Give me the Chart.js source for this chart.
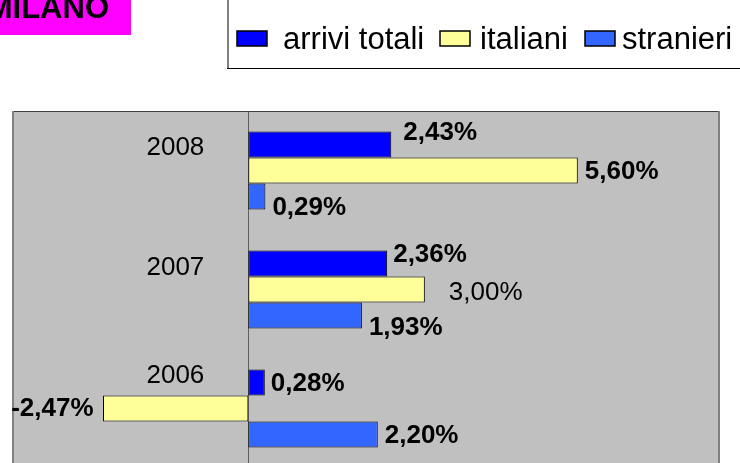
<!DOCTYPE html>
<html>
<head>
<meta charset="utf-8">
<script src="https://cdn.jsdelivr.net/npm/chart.js@4.4.1/dist/chart.umd.min.js"></script>
<style>
  html, body { margin: 0; padding: 0; background: #fff; overflow: hidden; }
  #wrap { position: relative; width: 740px; height: 463px; overflow: hidden; }
  canvas { display: block; }
</style>
</head>
<body>
<div id="wrap"><canvas id="c" width="740" height="480"></canvas></div>
<script>
// ---- data ----
const categories = ['2008', '2007', '2006'];
const seriesNames = ['arrivi totali', 'italiani', 'stranieri'];
const arriviTotali = [2.43, 2.36, 0.28];
const italiani = [5.60, 3.00, -2.47];
const stranieri = [0.29, 1.93, 2.20];
const titleText = 'MILANO';
const xMin = -4;
const xMax = 8;

// ---- presentation ----
const FONT = '"Liberation Sans", Arial, Helvetica, sans-serif';
const COLORS = ['#0000FF', '#FFFF99', '#3366FF'];
// label nudges [dx, dy] per series / category (as placed in the original)
const LABEL_NUDGE = [
  [[12, -11.5], [6, -9], [6, 1.5]],
  [[7, 1.5], [24, 3.5], [-9.5, 0]],
  [[7, 11], [7, 12.5], [7, 1]]
];
const LABEL_BOLD = [
  [true, true, true],
  [true, false, true],
  [true, true, true]
];
const CAT_DY = [-23, -22, -33];

function fmt(v) { return v.toFixed(2).replace('.', ',') + '%'; }

const decor = {
  id: 'decor',
  beforeDraw(chart) {
    const ctx = chart.ctx, a = chart.chartArea;
    ctx.save();
    ctx.fillStyle = '#C0C0C0';
    ctx.fillRect(a.left, a.top, a.right - a.left, a.bottom - a.top);
    // title box
    ctx.fillStyle = '#FF00FF';
    ctx.fillRect(0, 0, 131, 35);
    ctx.fillStyle = '#000';
    ctx.font = 'bold 31px ' + FONT;
    ctx.textAlign = 'right';
    ctx.textBaseline = 'alphabetic';
    ctx.fillText(titleText, 109, 17.5);
    // legend frame
    ctx.strokeStyle = '#808080';
    ctx.lineWidth = 2;
    ctx.beginPath(); ctx.moveTo(228, -2); ctx.lineTo(228, 68); ctx.stroke();
    ctx.strokeStyle = '#000';
    ctx.lineWidth = 1;
    ctx.beginPath(); ctx.moveTo(227, 68.5); ctx.lineTo(745, 68.5); ctx.stroke();
    // legend items
    const items = [
      { box: 237, text: 283 },
      { box: 440, text: 480 },
      { box: 585, text: 622 }
    ];
    ctx.font = '31px ' + FONT;
    ctx.textAlign = 'left';
    chart.data.datasets.forEach((ds, i) => {
      const it = items[i];
      ctx.fillStyle = ds.backgroundColor;
      ctx.fillRect(it.box, 31, 30, 15);
      ctx.strokeStyle = '#000';
      ctx.lineWidth = 1.5;
      ctx.strokeRect(it.box, 31, 30, 15);
      ctx.fillStyle = '#000';
      ctx.fillText(ds.label, it.text, 48.5);
    });
    ctx.restore();
  },
  beforeDatasetsDraw(chart) {
    const ctx = chart.ctx, a = chart.chartArea;
    const x0 = Math.round(chart.scales.x.getPixelForValue(0)) + 0.5;
    ctx.save();
    ctx.strokeStyle = '#606060';
    ctx.lineWidth = 1;
    ctx.beginPath(); ctx.moveTo(x0, a.top); ctx.lineTo(x0, a.bottom); ctx.stroke();
    ctx.restore();
  },
  afterDatasetsDraw(chart) {
    const ctx = chart.ctx, a = chart.chartArea;
    const xs = chart.scales.x, ys = chart.scales.y;
    ctx.save();
    ctx.strokeStyle = '#404040';
    ctx.lineWidth = 1;
    ctx.beginPath(); ctx.moveTo(a.left, a.top + 0.5); ctx.lineTo(a.right, a.top + 0.5); ctx.stroke();
    ctx.strokeStyle = '#808080';
    ctx.lineWidth = 2;
    ctx.beginPath(); ctx.moveTo(a.left, a.top); ctx.lineTo(a.left, a.bottom + 5); ctx.stroke();
    ctx.beginPath(); ctx.moveTo(a.right, a.top); ctx.lineTo(a.right, a.bottom + 5); ctx.stroke();
    // category labels
    ctx.fillStyle = '#000';
    ctx.font = '26px ' + FONT;
    ctx.textAlign = 'right';
    ctx.textBaseline = 'middle';
    const x0 = xs.getPixelForValue(0);
    categories.forEach((c, j) => {
      ctx.fillText(c, x0 - 44, ys.getPixelForValue(j) + CAT_DY[j]);
    });
    // value labels
    chart.data.datasets.forEach((ds, i) => {
      const meta = chart.getDatasetMeta(i);
      meta.data.forEach((el, j) => {
        const v = ds.data[j];
        const n = LABEL_NUDGE[i][j];
        ctx.font = (LABEL_BOLD[i][j] ? 'bold ' : '') + '26px ' + FONT;
        ctx.textBaseline = 'middle';
        ctx.textAlign = v >= 0 ? 'left' : 'right';
        ctx.fillText(fmt(v), el.x + n[0], el.y + n[1]);
      });
    });
    ctx.restore();
  }
};

new Chart(document.getElementById('c'), {
  type: 'bar',
  data: {
    labels: categories,
    datasets: [
      { label: seriesNames[0], data: arriviTotali, backgroundColor: COLORS[0] },
      { label: seriesNames[1], data: italiani, backgroundColor: COLORS[1] },
      { label: seriesNames[2], data: stranieri, backgroundColor: COLORS[2] }
    ].map(d => Object.assign(d, {
      borderColor: '#000', borderWidth: 1, borderSkipped: false,
      categoryPercentage: 0.655, barPercentage: 1
    }))
  },
  options: {
    indexAxis: 'y',
    responsive: false,
    animation: false,
    layout: { padding: { left: 13, right: 21, top: 111, bottom: 12 } },
    scales: {
      x: { type: 'linear', min: xMin, max: xMax, display: false },
      y: { type: 'category', display: false, offset: true }
    },
    plugins: { legend: { display: false }, tooltip: { enabled: false }, title: { display: false } }
  },
  plugins: [decor]
});
</script>
</body>
</html>
